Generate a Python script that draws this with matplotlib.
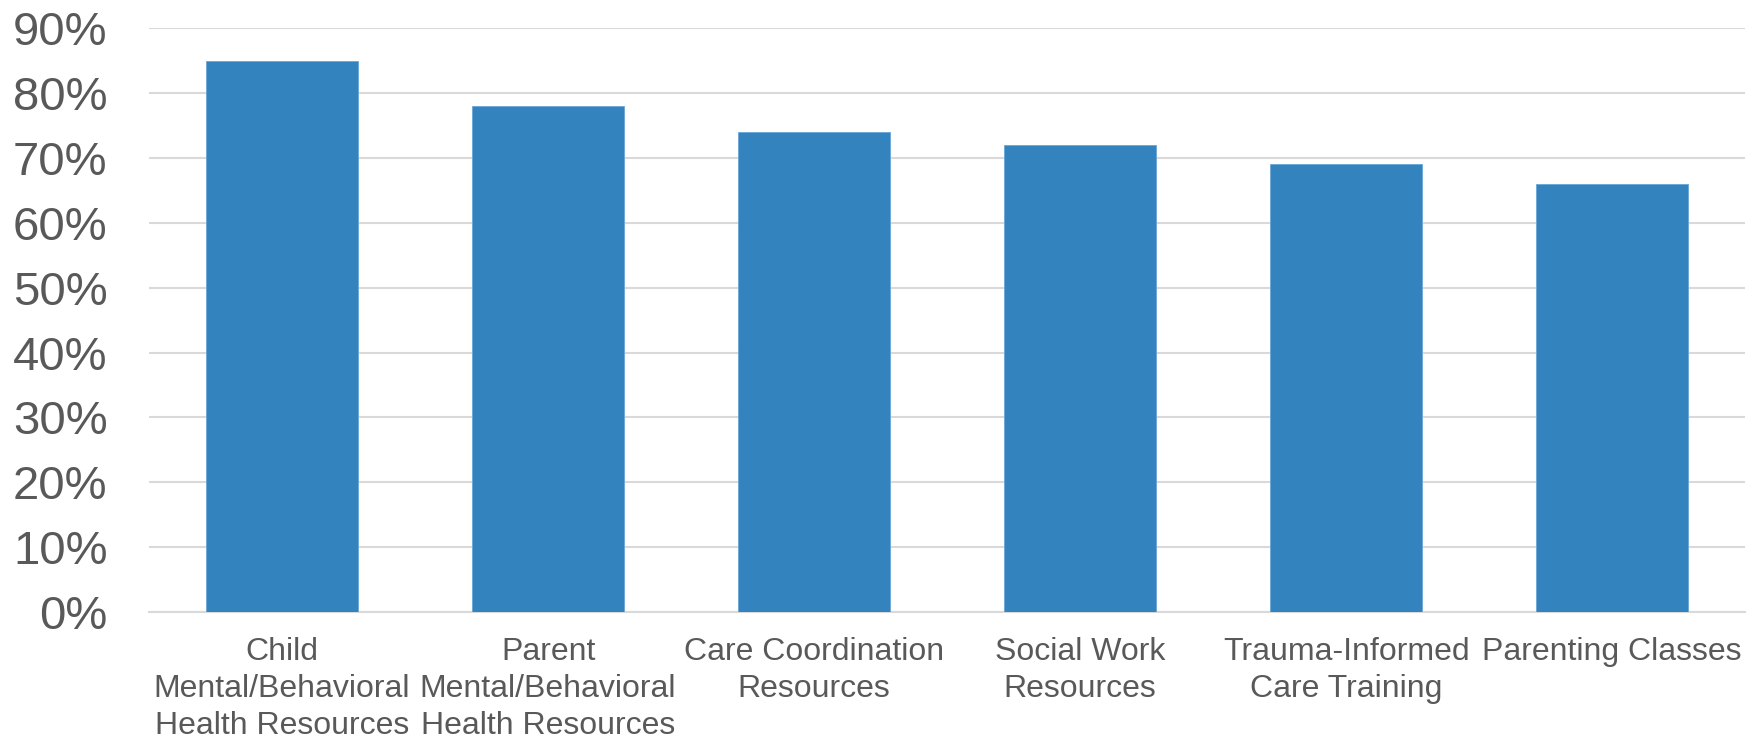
import matplotlib.pyplot as plt
from matplotlib.ticker import PercentFormatter

# Categories and values
categories = [
    "Child\nMental/Behavioral\nHealth Resources",
    "Parent\nMental/Behavioral\nHealth Resources",
    "Care Coordination\nResources",
    "Social Work\nResources",
    "Trauma-Informed\nCare Training",
    "Parenting Classes",
]
values = [85, 78, 74, 72, 69, 66]
y_ticks = [0, 10, 20, 30, 40, 50, 60, 70, 80, 90]

bar_color = "#3283BE"
text_color = "#595959"
grid_color = "#D9D9D9"

plt.rcParams["font.family"] = ["Liberation Sans", "DejaVu Sans"]

fig = plt.figure(figsize=(17.54, 7.41), dpi=100)
ax = fig.add_axes([0.085, 0.174, 0.91, 0.788])

x = range(len(categories))
ax.bar(x, values, width=0.57, color=bar_color, edgecolor="#6AA6D6", linewidth=0.6, zorder=3)

ax.set_ylim(0, 90)
ax.set_xlim(-0.5, len(categories) - 0.5)
ax.set_yticks(y_ticks)
ax.yaxis.set_major_formatter(PercentFormatter(decimals=0))
ax.set_xticks(list(x))
ax.set_xticklabels(categories, linespacing=1.3)

ax.grid(axis="y", color=grid_color, linewidth=1.5, zorder=0)
for side in ["top", "right", "left"]:
    ax.spines[side].set_visible(False)
ax.spines["bottom"].set_color(grid_color)
ax.spines["bottom"].set_linewidth(1.5)

ax.tick_params(axis="y", length=0, pad=30, labelsize=34, labelcolor=text_color)
ax.tick_params(axis="x", length=0, pad=18, labelsize=23, labelcolor=text_color)

fig.savefig("out.png", dpi=100)
